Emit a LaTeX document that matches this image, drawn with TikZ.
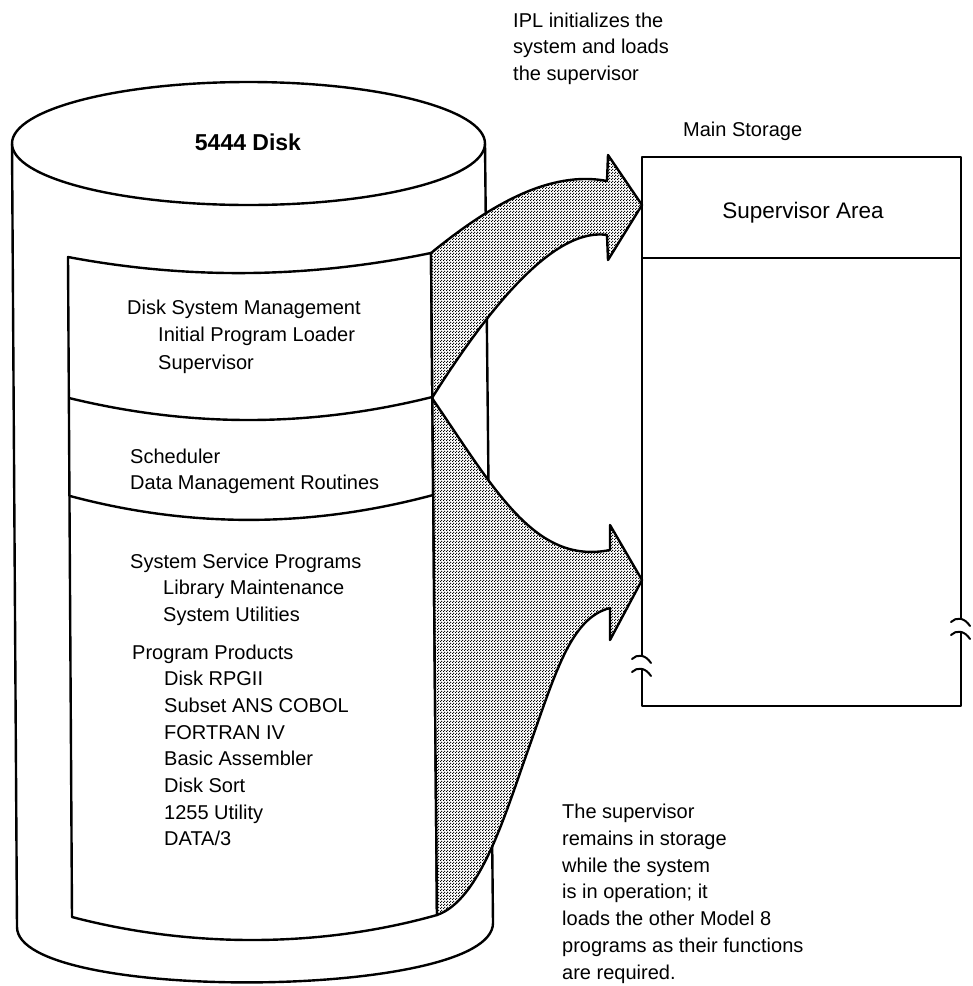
\documentclass[tikz,border=0pt]{standalone}
\usepackage{fontspec}
\setmainfont{Liberation Sans}
\usetikzlibrary{patterns.meta}

\tikzdeclarepattern{
  name=diskdots,
  bottom left={(-0.75pt,-0.75pt)},
  top right={(2.25pt,2.25pt)},
  tile size={(3pt,3pt)},
  code={
    \fill (0pt,0pt) circle (0.9pt);
    \fill (1.5pt,1.5pt) circle (0.9pt);
  }
}

\begin{document}
\begin{tikzpicture}[x=1pt, y=-1pt, line join=round]

		\tikzstyle{edge}=[line width=2.4pt, black]
		\tikzstyle{flow}=[edge, preaction={fill=white}, pattern={diskdots}, pattern color=black]
		\tikzstyle{txt}=[inner sep=0pt, anchor=base west, align=left, font=\fontsize{20}{26.7}\selectfont]
		\tikzstyle{brk}=[line width=2pt, black, line cap=round]
		\useasboundingbox (0,0) rectangle (973,986);

		% Disk cylinder
		\draw[edge] (12,143.5) -- (17,927) .. controls (17,1003) and (493,1000) .. (493,923) -- (485,143.5);
		\draw[edge] (248.5,143.5) ellipse [x radius=236.5pt, y radius=61.5pt];
		\node[inner sep=0pt, anchor=base, font=\fontsize{23}{27}\selectfont\bfseries] (disk) at (248,150.5) {5444 Disk};

		% Disk contents
		\draw[edge] (68,257) .. controls (190,280) and (310,278) .. (431,253) -- (437,915) .. controls (320,948) and (190,948) .. (72,917) -- cycle;
		\draw[edge] (69,398) .. controls (190,427.5) and (310,427.5) .. (432.3,397);
		\draw[edge] (70,496) .. controls (190,528) and (310,528) .. (433.2,495);

		% Load arrows
		\draw[flow] (431,253) .. controls (490,205) and (550,170) .. (607,181) -- (608,155) -- (642,205) -- (608,260) -- (607,235) .. controls (560,228) and (500,290) .. (432.3,397.5) -- cycle;
		\draw[flow] (432.3,398.5) .. controls (495,490) and (535,565) .. (610,550) -- (610,525) -- (642,580) -- (610,640) -- (610,608) .. controls (570,618) and (555,675) .. (527,753) .. controls (505,815) and (480,900) .. (437,915) -- cycle;

		% Main storage
		\draw[edge] (642,657) -- (642,157) -- (961,157) -- (961,620);
		\draw[edge] (961,633) -- (961,706) -- (642,706) -- (642,670);
		\draw[edge] (642,258) -- (961,258);
		\foreach \bx/\by in {642/657, 642/670, 961/620, 961/633}
			\draw[brk] (\bx-10,\by+2) .. controls (\bx-5,\by-3) and (\bx+3,\by-3) .. (\bx+9,\by+6);

		% Labels (base = last line)
		\node[txt] (ipl) at (513,80.4) {IPL initializes the\\system and loads\\the supervisor};
		\node[txt] (mslabel) at (683,136) {Main Storage};
		\node[inner sep=0pt, anchor=base, font=\fontsize{22.5}{27}\selectfont] (suparea) at (803,218) {Supervisor Area};

		\node[txt, font=\fontsize{20}{27.5}\selectfont] (dsm) at (127,369) {Disk System Management\\\hspace*{31pt}Initial Program Loader\\\hspace*{31pt}Supervisor};
		\node[txt] (sched) at (130,489.7) {Scheduler\\Data Management Routines};
		\node[txt] (ssp) at (130,621.4) {System Service Programs\\\hspace*{33pt}Library Maintenance\\\hspace*{33pt}System Utilities};
		\node[txt] (pp) at (132,845.9) {Program Products\\\hspace*{32pt}Disk RPGII\\\hspace*{32pt}Subset ANS COBOL\\\hspace*{32pt}FORTRAN IV\\\hspace*{32pt}Basic Assembler\\\hspace*{32pt}Disk Sort\\\hspace*{32pt}1255 Utility\\\hspace*{32pt}DATA/3};
		\node[txt] (note) at (562,979) {The supervisor\\remains in storage\\while the system\\is in operation; it\\loads the other Model 8\\programs as their functions\\are required.};

\end{tikzpicture}
\end{document}
